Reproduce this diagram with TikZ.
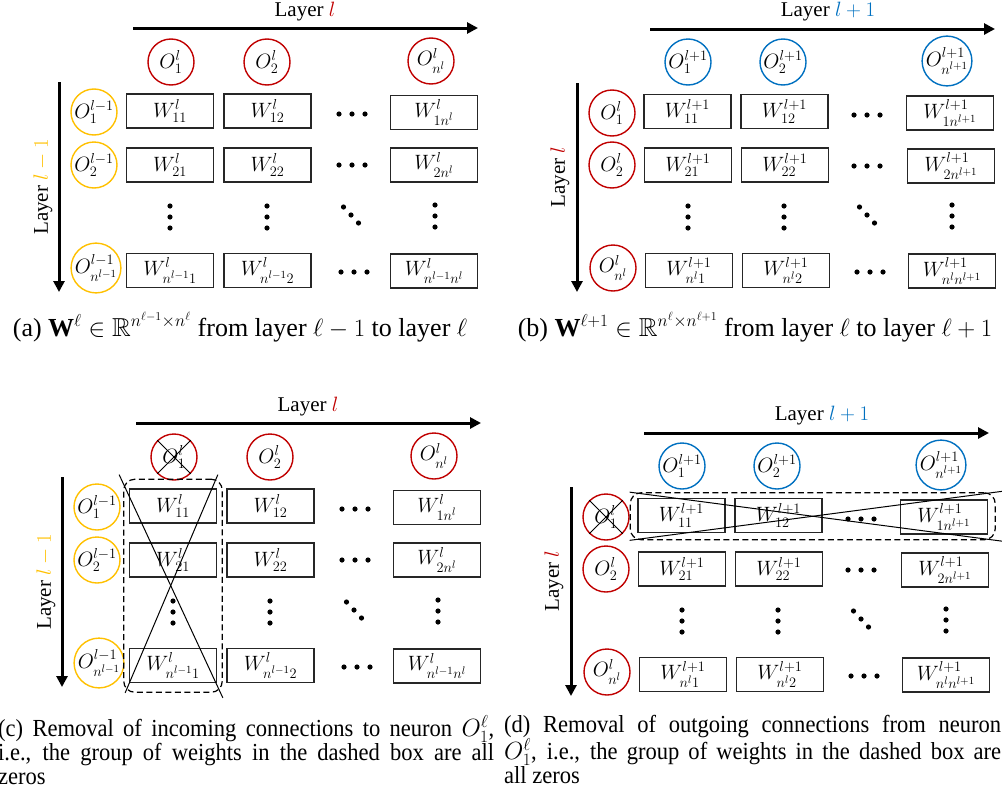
\documentclass[tikz,border=0pt]{standalone}
\usepackage{amssymb}
\usepackage{fontspec}
\setmainfont{Liberation Serif}
\newfontfamily\capfont[FakeStretch=0.92]{Liberation Serif}
\usetikzlibrary{arrows.meta,fit,calc}
\definecolor{lred}{RGB}{192,0,0}
\definecolor{lgold}{RGB}{255,192,0}
\definecolor{lblue}{RGB}{0,112,192}
\tikzset{
  neur/.style={circle,draw=#1,line width=1.4pt,minimum size=46pt,inner sep=0pt,font=\fontsize{21}{21}\selectfont},
  wbox/.style={rectangle,draw=black!85,line width=1.5pt,minimum width=87pt,minimum height=34pt,inner sep=0pt,font=\fontsize{22}{22}\selectfont},
  layerarrow/.style={line width=3pt,-{Triangle[length=11pt,width=11pt]}},
  layertext/.style={font=\fontsize{21}{21}\selectfont,inner sep=0pt},
  crossline/.style={line width=1pt},
  zerobox/.style={draw,dash pattern=on 6pt off 3.5pt,line width=1.2pt,rounded corners=11pt,inner sep=0pt},
  captext/.style={font=\fontsize{26}{24}\selectfont,inner sep=0pt},
  capwide/.style={font=\capfont\fontsize{24.5}{24}\selectfont,inner sep=0pt,anchor=north west,align=justify}
}
\newcommand\hdotsat[1]{\fill[shift={(#1)}] (-13,0) circle (2.6pt) (0,0) circle (2.6pt) (13,0) circle (2.6pt);}
\newcommand\vdotsat[1]{\fill[shift={(#1)}] (0,-11) circle (2.6pt) (0,0) circle (2.6pt) (0,11) circle (2.6pt);}
\newcommand\ddotsat[1]{\fill[shift={(#1)}] (-7.5,-8) circle (2.6pt) (0,0) circle (2.6pt) (7.5,8) circle (2.6pt);}
\newcommand\panelA[1]{%
  \node[layertext] (#1-title) at (305,12) {Layer $\color{lred}l$};
  \coordinate (#1-hs) at (133,28); \coordinate (#1-he) at (478,28);
  \draw[layerarrow] (#1-hs) -- (#1-he);
  \coordinate (#1-vs) at (59,82); \coordinate (#1-ve) at (59,292);
  \draw[layerarrow] (#1-vs) -- (#1-ve);
  \node[layertext,rotate=90] (#1-side) at (43,187) {Layer $\color{lgold}l-1$};
  \node[neur=lred] (#1-t1) at (171,62) {$O_1^l$};
  \node[neur=lred] (#1-t2) at (267,62) {$O_2^l$};
  \node[neur=lred] (#1-t3) at (431,61) {$O_{n^l}^l$};
  \node[neur=lgold] (#1-l1) at (94,112) {$O_1^{l-1}$};
  \node[neur=lgold] (#1-l2) at (94,165) {$O_2^{l-1}$};
  \node[neur=lgold] (#1-l3) at (96,268) {$O_{n^{l-1}}^{l-1}$};
  \node[wbox] (#1-w11) at (170,111) {$W_{11}^l$};
  \node[wbox] (#1-w12) at (267.5,111) {$W_{12}^l$};
  \node[wbox] (#1-w14) at (434,112.5) {$W_{1n^l}^l$};
  \node[wbox] (#1-w21) at (170,165) {$W_{21}^l$};
  \node[wbox] (#1-w22) at (267.5,165) {$W_{22}^l$};
  \node[wbox] (#1-w24) at (434,165) {$W_{2n^l}^l$};
  \node[wbox] (#1-w41) at (170,270.5) {$W_{n^{l-1}1}^l$};
  \node[wbox] (#1-w42) at (267.5,270.5) {$W_{n^{l-1}2}^l$};
  \node[wbox] (#1-w44) at (434,271) {$W_{n^{l-1}n^l}^l$};
  \hdotsat{352,114} \hdotsat{352,165} \hdotsat{354,272}
  \vdotsat{170,217} \vdotsat{267,217} \vdotsat{435,216}
  \ddotsat{351,215}
}
\newcommand\panelB[1]{%
  \node[layertext] (#1-title) at (828,12) {Layer $\color{lblue}l+1$};
  \coordinate (#1-hs) at (650,29); \coordinate (#1-he) at (995,29);
  \draw[layerarrow] (#1-hs) -- (#1-he);
  \coordinate (#1-vs) at (577,83); \coordinate (#1-ve) at (577,292);
  \draw[layerarrow] (#1-vs) -- (#1-ve);
  \node[layertext,rotate=90] (#1-side) at (560,177) {Layer $\color{lred}l$};
  \node[neur=lblue] (#1-t1) at (688,62) {$O_1^{l+1}$};
  \node[neur=lblue] (#1-t2) at (783,62) {$O_2^{l+1}$};
  \node[neur=lblue] (#1-t3) at (947,61) {$O_{n^{l+1}}^{l+1}$};
  \node[neur=lred] (#1-l1) at (612,113) {$O_1^l$};
  \node[neur=lred] (#1-l2) at (612,165) {$O_2^l$};
  \node[neur=lred] (#1-l3) at (613,268) {$O_{n^l}^l$};
  \node[wbox] (#1-w11) at (687.5,111.5) {$W_{11}^{l+1}$};
  \node[wbox] (#1-w12) at (784.5,111.5) {$W_{12}^{l+1}$};
  \node[wbox] (#1-w14) at (950,113) {$W_{1n^{l+1}}^{l+1}$};
  \node[wbox] (#1-w21) at (688,165) {$W_{21}^{l+1}$};
  \node[wbox] (#1-w22) at (785,165) {$W_{22}^{l+1}$};
  \node[wbox] (#1-w24) at (951,166) {$W_{2n^{l+1}}^{l+1}$};
  \node[wbox] (#1-w41) at (689,270.5) {$W_{n^l1}^{l+1}$};
  \node[wbox] (#1-w42) at (786,270.5) {$W_{n^l2}^{l+1}$};
  \node[wbox] (#1-w44) at (952,271) {$W_{n^ln^{l+1}}^{l+1}$};
  \hdotsat{867,115} \hdotsat{867,166} \hdotsat{870,272}
  \vdotsat{688,217} \vdotsat{784,217} \vdotsat{952,216}
  \ddotsat{867,215}
}
\begin{document}
\begin{tikzpicture}[x=1pt,y=-1pt]
\useasboundingbox (0,0) rectangle (1002,798);
% (a)
\begin{scope}
  \panelA{a}
\end{scope}
% (b)
\begin{scope}
  \panelB{b}
\end{scope}
% (c)
\begin{scope}[shift={(3,395)}]
  \panelA{c}
\end{scope}
\node[zerobox,fit=(c-w11)(c-w41),inner xsep=5pt,inner ysep=9pt] (c-zero) {};
\draw[crossline] ($(c-zero.north west)+(-4,-4)$) -- ($(c-zero.south east)+(0,5)$);
\draw[crossline] ($(c-zero.north east)+(-5,-4)$) -- ($(c-zero.south west)+(2,0)$);
\draw[crossline] (c-t1.135) -- (c-t1.-45);
\draw[crossline] (c-t1.45) -- (c-t1.-135);
% (d)
\begin{scope}[shift={(-6,404)}]
  \panelB{d}
\end{scope}
\node[zerobox,fit=(d-w11)(d-w14),inner xsep=7pt,inner ysep=5pt] (d-zero) {};
\draw[crossline] (d-zero.north west) -- ($(d-zero.north west)!1.06!(d-zero.south east)$);
\draw[crossline] (d-zero.south west) -- ($(d-zero.south west)!1.06!(d-zero.north east)$);
\draw[crossline] (d-l1.135) -- (d-l1.-45);
\draw[crossline] (d-l1.45) -- (d-l1.-135);
% captions
\node[captext] (capa) at (240,327) {(a) $\mathbf{W}^\ell \in \mathbb{R}^{n^{\ell-1}\times n^\ell}$ from layer $\ell-1$ to layer $\ell$};
\node[captext] (capb) at (755,327) {(b) $\mathbf{W}^{\ell+1} \in \mathbb{R}^{n^{\ell}\times n^{\ell+1}}$ from layer $\ell$ to layer $\ell+1$};
\node[capwide,text width=496pt] (capc) at (-2,715) {(c) Removal of incoming connections to neuron $O_1^\ell$,\linebreak i.e., the group of weights in the dashed box are all\linebreak zeros};
\node[capwide,text width=497pt] (capd) at (504,715) {(d) Removal of outgoing connections from neuron\linebreak $O_1^\ell$, i.e., the group of weights in the dashed box are\linebreak all zeros};
\end{tikzpicture}
\end{document}
